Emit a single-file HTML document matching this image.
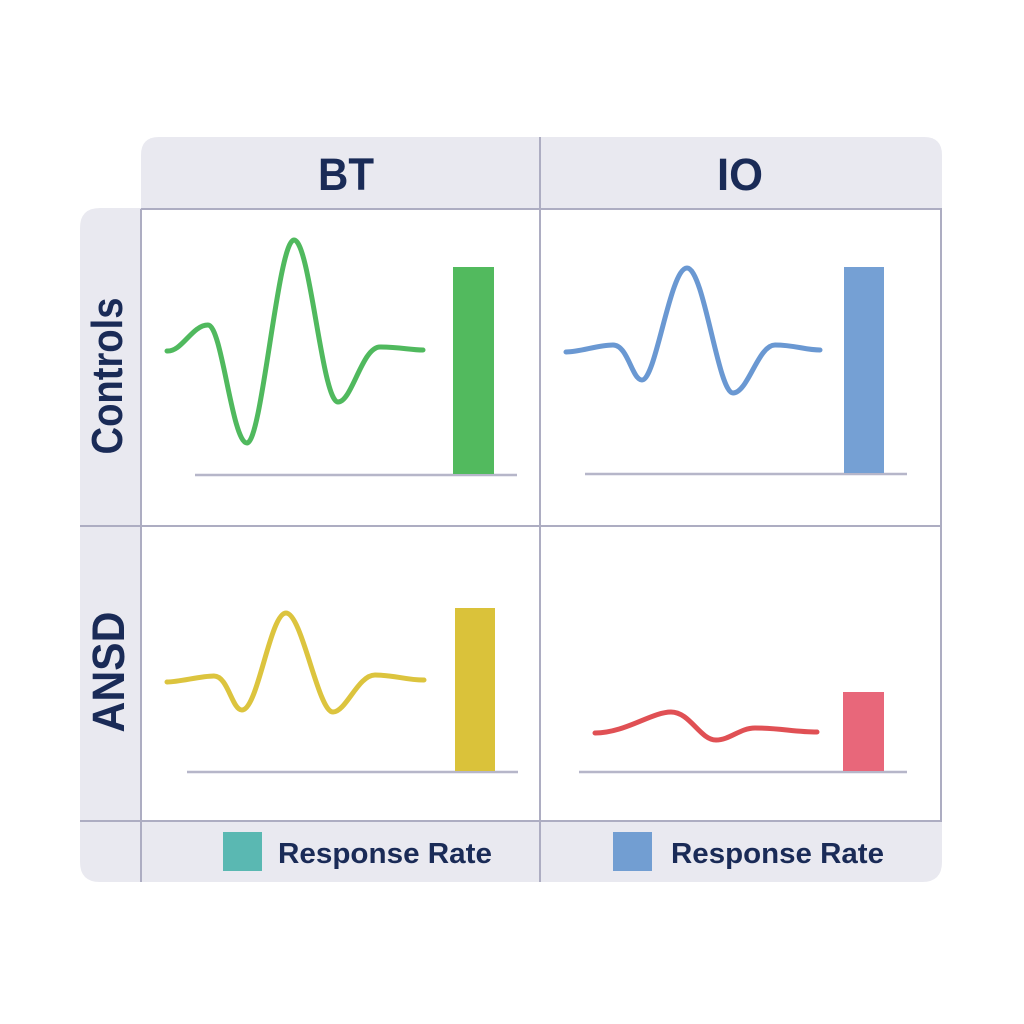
<!DOCTYPE html>
<html>
<head>
<meta charset="utf-8">
<style>
  html,body{margin:0;padding:0;background:#ffffff;}
  svg{display:block;}
  text{font-family:"Liberation Sans",sans-serif;font-weight:bold;fill:#1a2b57;}
</style>
</head>
<body>
<svg width="1024" height="1024" viewBox="0 0 1024 1024" xmlns="http://www.w3.org/2000/svg">
  <rect x="0" y="0" width="1024" height="1024" fill="#ffffff"/>
  <!-- gray frame pieces -->
  <g fill="#e9e9f0">
    <path d="M141,209 V155 Q141,137 159,137 H924 Q942,137 942,155 V209 Z"/>
    <path d="M80,821 V228 Q80,208 100,208 H141 V821 Z"/>
    <path d="M80,821 H942 V862 Q942,882 922,882 H100 Q80,882 80,862 Z"/>
  </g>
  <!-- white cells -->
  <rect x="141" y="209" width="800" height="612" fill="#ffffff"/>
  <!-- grid lines -->
  <g stroke="#adadc2" stroke-width="2" fill="none">
    <line x1="141" y1="209" x2="942" y2="209"/>
    <line x1="80" y1="526" x2="942" y2="526"/>
    <line x1="80" y1="821" x2="942" y2="821"/>
    <line x1="141" y1="209" x2="141" y2="882"/>
    <line x1="540" y1="137" x2="540" y2="882"/>
    <line x1="941" y1="209" x2="941" y2="821"/>
  </g>

  <!-- headers -->
  <text x="346" y="190" font-size="45" text-anchor="middle" textLength="56" lengthAdjust="spacingAndGlyphs">BT</text>
  <text x="740" y="190" font-size="45" text-anchor="middle" textLength="46" lengthAdjust="spacingAndGlyphs">IO</text>
  <text transform="translate(122,376) rotate(-90)" x="0" y="0" font-size="44" text-anchor="middle" textLength="157" lengthAdjust="spacingAndGlyphs">Controls</text>
  <text transform="translate(124,672) rotate(-90)" x="0" y="0" font-size="45" text-anchor="middle" textLength="121" lengthAdjust="spacingAndGlyphs">ANSD</text>

  <!-- baselines -->
  <g stroke="#b6b6c9" stroke-width="2.5">
    <line x1="195" y1="475" x2="517" y2="475"/>
    <line x1="585" y1="474" x2="907" y2="474"/>
    <line x1="187" y1="772" x2="518" y2="772"/>
    <line x1="579" y1="772" x2="907" y2="772"/>
  </g>

  <!-- bars -->
  <rect x="453" y="267" width="41" height="207" fill="#52ba5e"/>
  <rect x="844" y="267" width="40" height="206" fill="#75a0d4"/>
  <rect x="455" y="608" width="40" height="163" fill="#dac23a"/>
  <rect x="843" y="692" width="41" height="79" fill="#e8677a"/>

  <!-- waves -->
  <g fill="none" stroke-width="5" stroke-linecap="round" stroke-linejoin="round">
    <path stroke="#50b95e" d="M167,351 C182,352 192,325 208,325 C222,325 232,443 247,443 C262,443 278,240 294,240 C310,240 322,402 338,402 C352,402 362,347 380,347 C400,347 410,350 423,350"/>
    <path stroke="#6a98d2" d="M566,352 C580,352 598,345 613,345 C628,345 632,380 642,380 C656,380 670,268 687,268 C704,268 718,393 733,393 C748,393 758,345 775,345 C795,345 805,350 820,350"/>
    <path stroke="#dcc43e" d="M167,682 C180,682 200,676 214,676 C228,676 232,710 242,710 C258,710 270,613 286,613 C302,613 318,712 333,712 C346,712 358,675 375,675 C395,675 405,680 424,680"/>
    <path stroke="#e05054" d="M595,733 C625,733 652,712 671,712 C690,712 700,740 716,740 C730,740 740,728 755,728 C780,728 795,732 817,732"/>
  </g>

  <!-- legend -->
  <rect x="223" y="832" width="39" height="39" fill="#5ab8b2"/>
  <text x="278" y="863" font-size="29" textLength="214" lengthAdjust="spacingAndGlyphs">Response Rate</text>
  <rect x="613" y="832" width="39" height="39" fill="#729ed2"/>
  <text x="671" y="863" font-size="29" textLength="213" lengthAdjust="spacingAndGlyphs">Response Rate</text>
</svg>
</body>
</html>
